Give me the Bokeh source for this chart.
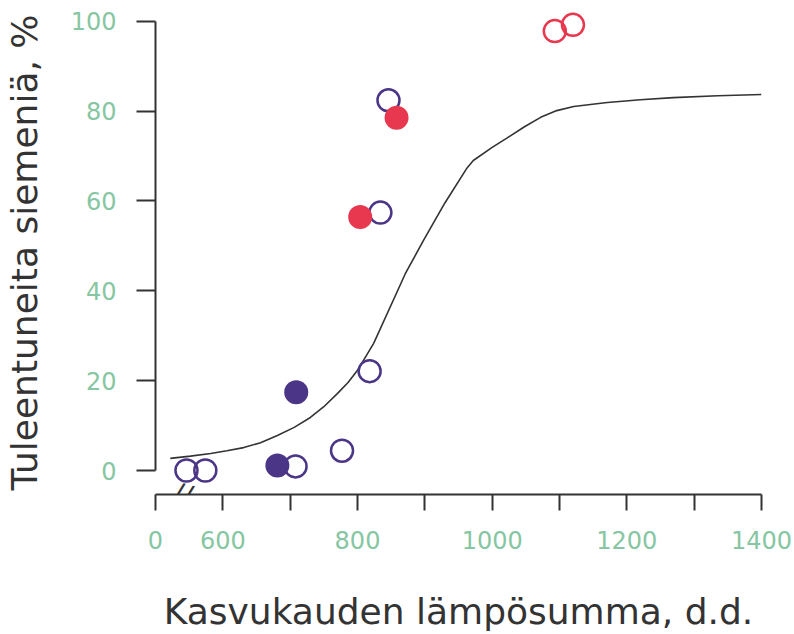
from bokeh.plotting import figure
from bokeh.models import Range1d, FixedTicker, Label
from bokeh.embed import file_html
from bokeh.resources import INLINE

# ---- data ----
open_purple_x = [546, 574, 708, 777, 818, 834, 846]
open_purple_y = [0.0, 0.0, 0.9, 4.4, 22.1, 57.4, 82.4]
filled_purple_x = [681, 709]
filled_purple_y = [1.1, 17.4]
filled_red_x = [804, 858]
filled_red_y = [56.4, 78.5]
open_red_x = [1093, 1120]
open_red_y = [97.8, 99.2]

curve_x = [522, 552, 582, 606, 631, 656, 681, 706, 730, 750, 770, 786, 800, 824, 871, 898, 930, 963, 972,
           1000, 1023, 1048, 1072, 1096, 1121, 1171, 1220, 1269, 1335, 1400]
curve_y = [2.7, 3.2, 3.8, 4.4, 5.1, 6.2, 7.8, 9.6, 11.8, 14.2, 17.1, 19.6, 22.3, 28.3, 43.8, 51.2, 59.6, 67.4, 69.0,
           71.9, 74.1, 76.5, 78.6, 80.1, 81.0, 81.9, 82.5, 83.0, 83.4, 83.7]

x_ticks = [500, 600, 700, 800, 900, 1000, 1100, 1200, 1300, 1400]
x_tick_labels = ["0", "600", "", "800", "", "1000", "", "1200", "", "1400"]
y_ticks = [0, 20, 40, 60, 80, 100]

x_title = "Kasvukauden lämpösumma, d.d."
y_title = "Tuleentuneita siemeniä, %"

PURPLE = "#4a3587"
RED = "#e8384f"
GREEN = "#86c6a2"
DARK = "#333333"
FONT = "DejaVu Sans"

p = figure(width=794, height=634,
           x_range=Range1d(500, 1400), y_range=Range1d(-5.34, 102.38),
           output_backend="svg", toolbar_location=None,
           min_border_left=155, min_border_top=10, min_border_right=33,
           min_border_bottom=140,
           x_axis_label=x_title, y_axis_label=y_title)

p.outline_line_color = None
p.xgrid.visible = False
p.ygrid.visible = False
p.background_fill_color = "white"

for ax in (p.xaxis[0], p.yaxis[0]):
    ax.axis_line_color = DARK
    ax.axis_line_width = 2
    ax.major_tick_line_color = DARK
    ax.major_tick_line_width = 2
    ax.major_tick_in = 0
    ax.minor_tick_line_color = None
    ax.major_label_text_color = GREEN
    ax.major_label_text_font = FONT
    ax.major_label_text_font_size = "24px"
    ax.axis_label_text_font = FONT
    ax.axis_label_text_font_size = "36px"
    ax.axis_label_text_font_style = "normal"
    ax.axis_label_text_color = DARK

xa = p.xaxis[0]
xa.bounds = (500, 1400)
xa.ticker = FixedTicker(ticks=x_ticks)
xa.major_label_overrides = {t: s for t, s in zip(x_ticks, x_tick_labels)}
xa.major_tick_out = 16
xa.major_label_standoff = 20
xa.axis_label_standoff = 39

ya = p.yaxis[0]
ya.bounds = (0, 100)
ya.ticker = FixedTicker(ticks=y_ticks)
ya.major_tick_out = 19
ya.major_label_standoff = 20
ya.axis_label_standoff = 23

# fitted curve
p.line(curve_x, curve_y, line_color=DARK, line_width=1.6)

# data points
p.scatter(open_purple_x, open_purple_y, size=22, marker="circle",
          fill_color="white", fill_alpha=0, line_color=PURPLE, line_width=2.5)
p.scatter(filled_purple_x, filled_purple_y, size=24, marker="circle",
          fill_color=PURPLE, line_color=PURPLE, line_width=0)
p.scatter(filled_red_x, filled_red_y, size=24, marker="circle",
          fill_color=RED, line_color=RED, line_width=0)
p.scatter(open_red_x, open_red_y, size=22, marker="circle",
          fill_color="white", fill_alpha=0, line_color=RED, line_width=2.5)

# axis break mark
p.add_layout(Label(x=541, y=-5.34, text="//", text_align="center",
                   text_baseline="middle", text_font=FONT,
                   text_font_size="28px", text_color=DARK, angle=-0.25))

open("out.html", "w").write(file_html(p, INLINE))
